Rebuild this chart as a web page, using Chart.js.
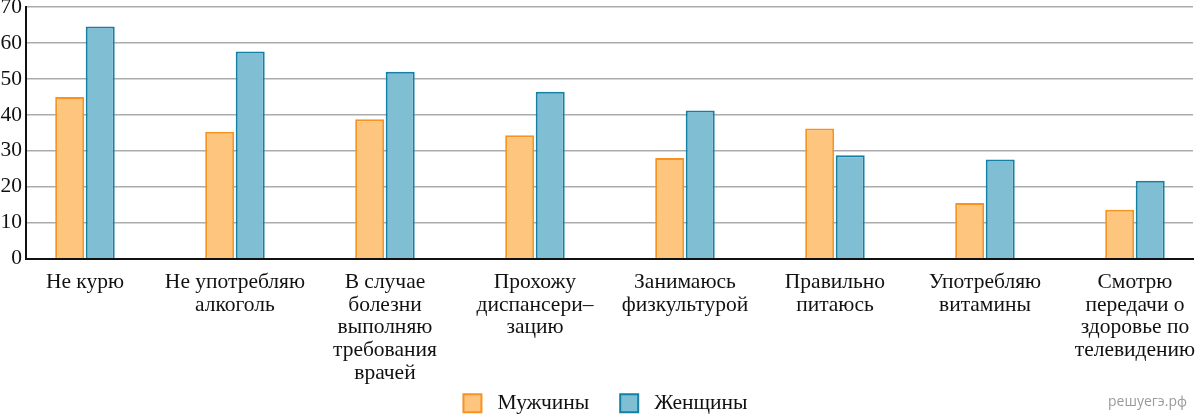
<!DOCTYPE html>
<html><head><meta charset="utf-8">
<script src="https://cdn.jsdelivr.net/npm/chart.js@4.4.1/dist/chart.umd.min.js"></script>
<style>
html,body{margin:0;padding:0;background:#fff;}
#wrap{position:relative;width:1200px;height:415px;overflow:hidden;}
#wm{position:absolute;left:1108px;top:391px;font:14px "Open Sans",sans-serif;color:#9a9a9a;white-space:nowrap;}
</style></head><body>
<div id="wrap"><canvas id="c" width="1200" height="415"></canvas><div id="wm">решуегэ.рф</div></div>
<script>
const categories = [
  ["Не курю"],
  ["Не употребляю", "алкоголь"],
  ["В случае", "болезни", "выполняю", "требования", "врачей"],
  ["Прохожу", "диспансери–", "зацию"],
  ["Занимаюсь", "физкультурой"],
  ["Правильно", "питаюсь"],
  ["Употребляю", "витамины"],
  ["Смотрю", "передачи о", "здоровье по", "телевидению"]
];
const menValues = [45, 35.3, 38.8, 34.3, 28, 36.2, 15.5, 13.6];
const womenValues = [64.6, 57.6, 52, 46.4, 41.2, 28.8, 27.6, 21.7];
const seriesNames = ["Мужчины", "Женщины"];
const yTicks = [0, 10, 20, 30, 40, 50, 60, 70];

const FONT = "'Liberation Serif', 'Times New Roman', serif";

const layoutTweaks = {
  id: 'layoutTweaks',
  afterLayout(chart) {
    // let multi-line category labels extend below the axis box
    chart.scales.x.bottom = chart.height;
    if (chart.legend) { chart.legend.left += 9; chart.legend.right += 9; }
  }
};

new Chart(document.getElementById('c'), {
  type: 'bar',
  data: {
    datasets: [
      {
        label: seriesNames[0],
        data: menValues.map((v, i) => ({x: i, y: v})),
        backgroundColor: '#FEC57F',
        borderColor: '#F7931E',
        borderWidth: 2,
        categoryPercentage: 0.407,
        barPercentage: 0.95
      },
      {
        label: seriesNames[1],
        data: womenValues.map((v, i) => ({x: i, y: v})),
        backgroundColor: '#80BED4',
        borderColor: '#1580A6',
        borderWidth: 2,
        categoryPercentage: 0.407,
        barPercentage: 0.95
      }
    ]
  },
  options: {
    responsive: false,
    animation: false,
    layout: { padding: { top: 7, right: 7, bottom: -9, left: 0 } },
    scales: {
      x: {
        type: 'linear',
        offset: false,
        min: -0.393,
        max: 7.387,
        afterBuildTicks: (s) => { s.ticks = categories.map((c, i) => ({value: i})); },
        afterFit: (s) => { s.paddingLeft = 0; s.paddingRight = 0; s.height = 102.8; },
        ticks: {
          autoSkip: false,
          maxRotation: 0,
          minRotation: 0,
          padding: 12,
          color: '#111',
          font: { family: FONT, size: 21.5, lineHeight: 1.06 },
          callback: (v) => categories[v]
        },
        grid: { display: true, offset: false, color: 'rgba(0,0,0,0)', drawTicks: false },
        border: { display: true, color: '#111', width: 2 }
      },
      y: {
        min: 0,
        max: 70,
        afterBuildTicks: (s) => { s.ticks = yTicks.map(v => ({value: v})); },
        afterFit: (s) => { s.width = 26; s.paddingTop = 0; s.paddingBottom = 0; },
        ticks: {
          padding: 4,
          color: '#111',
          font: { family: FONT, size: 21.5 }
        },
        grid: { color: '#ababab', lineWidth: 1.5, drawTicks: false },
        border: { display: true, color: '#111', width: 2 }
      }
    },
    plugins: {
      tooltip: { enabled: false },
      legend: {
        position: 'bottom',
        labels: {
          boxWidth: 18,
          boxHeight: 18,
          padding: 31,
          color: '#111',
          font: { family: FONT, size: 21.5 },
          generateLabels: (chart) =>
            Chart.defaults.plugins.legend.labels.generateLabels(chart)
              .map(item => Object.assign(item, { text: ' ' + item.text }))
        }
      }
    }
  },
  plugins: [layoutTweaks]
});
</script>
</body></html>
